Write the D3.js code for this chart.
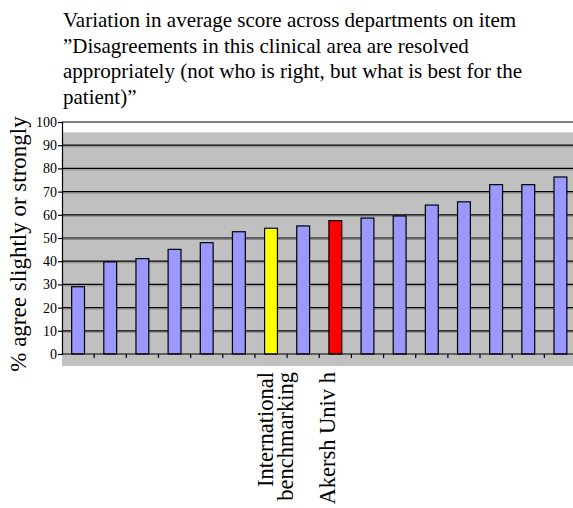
<!DOCTYPE html>
<html>
<head>
<meta charset="utf-8">
<script src="https://cdn.jsdelivr.net/npm/d3@7"></script>
<style>
  body { margin: 0; background: #fff; }
  svg { display: block; }
  svg text { font-family: "Liberation Serif", "Times New Roman", serif; fill: #000; }
</style>
</head>
<body>
<svg id="chart" width="573" height="508"></svg>
<script>
// data
var titleLines = [
    "Variation in average score across departments on item",
    "\u201DDisagreements in this clinical area are resolved",
    "appropriately (not who is right, but what is best for the",
    "patient)\u201D"
];
var departments = ["", "", "", "", "", "", "International\nbenchmarking", "", "Akersh Univ h", "", "", "", "", "", "", ""];
var scores = [29.0, 39.7, 41.1, 45.1, 48.0, 52.7, 54.2, 55.2, 57.5, 58.6, 59.5, 64.2, 65.6, 73.0, 73.0, 76.3];
var barColors = ["#9999ff", "#9999ff", "#9999ff", "#9999ff", "#9999ff", "#9999ff", "#ffff00", "#9999ff",
    "#ff0000", "#9999ff", "#9999ff", "#9999ff", "#9999ff", "#9999ff", "#9999ff", "#9999ff"];
var yTicks = [0, 10, 20, 30, 40, 50, 60, 70, 80, 90, 100];
var yLabel = "% agree slightly or strongly";

var svg = d3.select("#chart");

// plot area
var pLeft = 62, pRight = 576.5, pTop = 122, pBottom = 354;

var x = d3.scaleBand()
    .domain(d3.range(scores.length))
    .range([pLeft, pRight])
    .paddingInner(0.6)
    .paddingOuter(0.3);

var y = d3.scaleLinear()
    .domain([0, 100])
    .range([pBottom, pTop]);

// title
svg.append("g")
    .selectAll("text")
    .data(titleLines)
    .enter().append("text")
    .attr("x", 63)
    .attr("y", function (d, i) { return 27 + i * 25.5; })
    .attr("font-size", "21px")
    .text(function (d) { return d; });

// grey back wall
svg.append("rect")
    .attr("x", pLeft)
    .attr("y", y(95.5))
    .attr("width", 573 - pLeft)
    .attr("height", pBottom + 12 - y(95.5))
    .attr("fill", "#c0c0c0");

// gridlines with a little shadow
var grid = svg.append("g");
grid.selectAll("line.shadow")
    .data(yTicks.slice(1, 10))
    .enter().append("line")
    .attr("class", "shadow")
    .attr("x1", pLeft).attr("x2", 573)
    .attr("y1", function (d) { return y(d) + 1.5; })
    .attr("y2", function (d) { return y(d) + 1.5; })
    .attr("stroke", "#8c8c8c")
    .attr("stroke-width", 1);
grid.selectAll("line.main")
    .data(yTicks.slice(1))
    .enter().append("line")
    .attr("class", "main")
    .attr("x1", pLeft).attr("x2", 573)
    .attr("y1", function (d) { return y(d); })
    .attr("y2", function (d) { return y(d); })
    .attr("stroke", "#000")
    .attr("stroke-width", 1.2);

// bars
svg.append("g")
    .selectAll("rect")
    .data(scores)
    .enter().append("rect")
    .attr("x", function (d, i) { return x(i); })
    .attr("y", function (d) { return y(d); })
    .attr("width", x.bandwidth())
    .attr("height", function (d) { return y(0) - y(d); })
    .attr("fill", function (d, i) { return barColors[i]; })
    .attr("stroke", "#000")
    .attr("stroke-width", 1.2);

// y axis
var yAxis = svg.append("g")
    .attr("transform", "translate(" + pLeft + ",0)")
    .call(d3.axisLeft(y).tickValues(yTicks).tickSize(4).tickPadding(1));
yAxis.attr("font-family", null);
yAxis.select(".domain").attr("stroke", "#000").attr("stroke-width", 1.2);
yAxis.selectAll(".tick line").attr("stroke", "#000").attr("stroke-width", 1.2);
yAxis.selectAll(".tick text")
    .attr("font-size", "14px");

// x axis line and ticks between categories
svg.append("line")
    .attr("x1", pLeft).attr("x2", 573)
    .attr("y1", pBottom).attr("y2", pBottom)
    .attr("stroke", "#000")
    .attr("stroke-width", 1.2);
svg.append("g")
    .selectAll("line")
    .data(d3.range(1, scores.length + 1))
    .enter().append("line")
    .attr("x1", function (i) { return pLeft + i * x.step(); })
    .attr("x2", function (i) { return pLeft + i * x.step(); })
    .attr("y1", pBottom).attr("y2", pBottom + 4)
    .attr("stroke", "#000")
    .attr("stroke-width", 1.2);

// category labels, rotated
var catLabels = svg.append("g")
    .selectAll("text")
    .data(departments)
    .enter().append("text")
    .attr("transform", function (d, i) {
        return "translate(" + (x(i) + x.bandwidth() / 2) + "," + (pBottom + 18) + ") rotate(-90)";
    })
    .attr("text-anchor", "end")
    .attr("font-size", "22.5px");
catLabels.each(function (d) {
    var lines = d.split("\n");
    var t = d3.select(this);
    lines.forEach(function (l, k) {
        t.append("tspan")
            .attr("x", 0)
            .attr("y", k * 20.5 + (lines.length > 1 ? 1.5 : 0))
            .text(l);
    });
});

// y axis title
svg.append("text")
    .attr("transform", "translate(26," + ((pTop + pBottom + 12) / 2) + ") rotate(-90)")
    .attr("text-anchor", "middle")
    .attr("font-size", "23px")
    .text(yLabel);
</script>
</body>
</html>
